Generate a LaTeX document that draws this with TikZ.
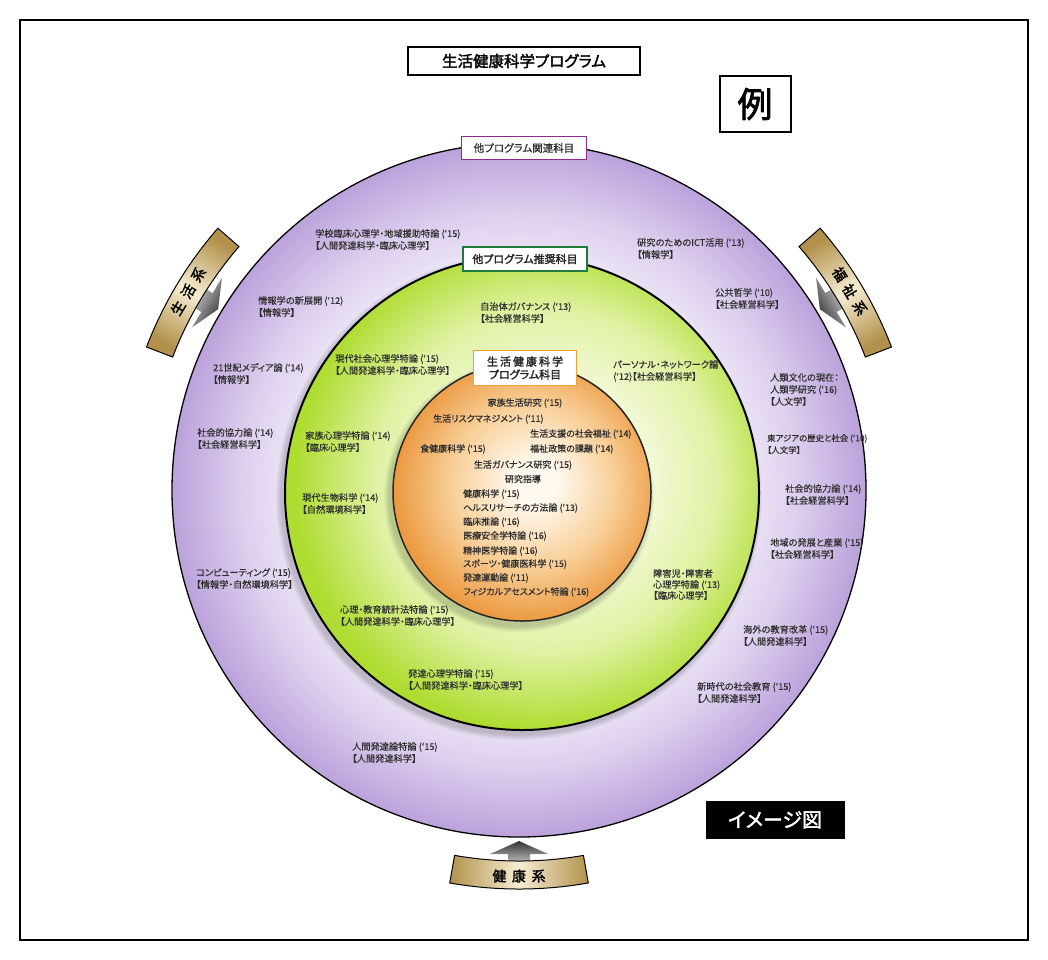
\documentclass[tikz,border=0pt]{standalone}
\usepackage{fontspec}
\newfontfamily\jp[RawFeature=+palt,FakeBold=0.25]{Noto Sans CJK JP}
\newfontfamily\jpm[RawFeature=+palt,FakeBold=0.6]{Noto Sans CJK JP}
\newfontfamily\jpb[RawFeature=+palt,FakeBold=2]{Noto Sans CJK JP}
\definecolor{pu1}{HTML}{EFE9F7}
\definecolor{pu2}{HTML}{DDCFEE}
\definecolor{pu3}{HTML}{BBA2DB}
\definecolor{gr1}{HTML}{F7FBE6}
\definecolor{gr2}{HTML}{E0F2A4}
\definecolor{gr3}{HTML}{AEDC30}
\definecolor{or1}{HTML}{FFF9F0}
\definecolor{or2}{HTML}{F8CE96}
\definecolor{or3}{HTML}{EC9A42}
\definecolor{gd1}{HTML}{B3914C}
\definecolor{gd2}{HTML}{F5EDD2}
\definecolor{txt}{HTML}{2E2E2E}
\definecolor{frpur}{HTML}{8A2C8C}
\definecolor{frgrn}{HTML}{1F7A3C}
\definecolor{frorg}{HTML}{F2A234}
\pgfdeclareradialshading{purpS}{\pgfpoint{0bp}{0bp}}{color(0bp)=(pu1); color(16bp)=(pu1); color(20bp)=(pu2); color(25bp)=(pu3); color(50bp)=(pu3)}
\pgfdeclareradialshading{grnS}{\pgfpoint{4bp}{2bp}}{color(0bp)=(gr1); color(8bp)=(gr1); color(18bp)=(gr2); color(26bp)=(gr3); color(50bp)=(gr3)}
\pgfdeclareradialshading{orgS}{\pgfpoint{3bp}{2bp}}{color(0bp)=(or1); color(4bp)=(or1); color(16bp)=(or2); color(26bp)=(or3); color(50bp)=(or3)}
\tikzset{
  lab/.style={font=\jp\fontsize{9.2}{12}\selectfont, text=txt, align=left, anchor=north west, inner sep=0pt},
  olab/.style={font=\jpm\fontsize{9}{11}\selectfont, text=txt, inner sep=0pt},
  bannertxt/.style={font=\jpb\fontsize{14}{16}\selectfont, text=black, inner sep=0pt},
  bannerbox/.style={draw=black, line width=1pt},
  tagbox/.style={fill=white, inner sep=0pt, align=center}
}
\begin{document}
\begin{tikzpicture}[x=1pt,y=-1pt]
\useasboundingbox (0,0) rectangle (1048,959);
\fill[white] (0,0) rectangle (1048,959);
\draw[line width=1.2pt] (20,20) rectangle (1028,940);

% circles
\shade[shading=purpS, draw=black, line width=1.3pt] (519,490) circle (347);
\foreach \i in {1,...,6}{\fill[black,opacity=0.03] (519,497) circle ({237+\i});}
\shade[shading=grnS, draw=black, line width=2pt] (522,493) circle (237);
\foreach \i in {1,...,6}{\fill[black,opacity=0.03] (519,497) circle ({129+\i});}
\shade[shading=orgS, draw=black!85, line width=1.5pt] (522,492) circle (129);

% banners with arrows
\begin{scope}[shift={(519,490)}]
  \shade[top color=black!80, bottom color=black!12, shading angle=0] (0,351) -- (29,364) -- (11,364) -- (11,378) -- (-11,378) -- (-11,364) -- (-29,364) -- cycle;
  \shade[bannerbox, left color=gd1, right color=gd1, middle color=gd2, shading angle=90] (80:371) arc[start angle=80, end angle=100, radius=371] -- (100:399) arc[start angle=100, end angle=80, radius=399] -- cycle;
  \node[bannertxt] (kenko) at (90:386) {健\hspace{0.4em}康\hspace{0.4em}系};
\end{scope}
\begin{scope}[shift={(519,490)}, rotate=-121]
  \shade[top color=black!80, bottom color=black!12, shading angle=-121] (0,351) -- (29,364) -- (11,364) -- (11,378) -- (-11,378) -- (-11,364) -- (-29,364) -- cycle;
  \shade[bannerbox, left color=gd1, right color=gd1, middle color=gd2, shading angle=-31] (80:371) arc[start angle=80, end angle=100, radius=371] -- (100:399) arc[start angle=100, end angle=80, radius=399] -- cycle;
  \node[bannertxt, rotate=59] (seikatsu) at (90:386) {生\hspace{0.4em}活\hspace{0.4em}系};
\end{scope}
\begin{scope}[shift={(519,490)}, rotate=121]
  \shade[top color=black!80, bottom color=black!12, shading angle=121] (0,351) -- (29,364) -- (11,364) -- (11,378) -- (-11,378) -- (-11,364) -- (-29,364) -- cycle;
  \shade[bannerbox, left color=gd1, right color=gd1, middle color=gd2, shading angle=211] (80:371) arc[start angle=80, end angle=100, radius=371] -- (100:399) arc[start angle=100, end angle=80, radius=399] -- cycle;
  \node[bannertxt, rotate=-59] (fukushi) at (90:386) {福\hspace{0.4em}祉\hspace{0.4em}系};
\end{scope}

% header boxes
\node[tagbox, draw=black, line width=1.3pt, minimum width=232pt, minimum height=28pt, font=\jpb\fontsize{15.5}{17}\selectfont] (title) at (524,61) {生活健康科学プログラム};
\node[tagbox, draw=black, line width=2pt, minimum width=71pt, minimum height=56pt, font=\jpb\fontsize{35}{37}\selectfont] (rei) at (755,104) {例};
\node[fill=black, text=white, inner sep=0pt, minimum width=139pt, minimum height=38pt, font=\jpb\fontsize{20}{22}\selectfont] (image) at (775,820) {イメージ図};

\node[tagbox, draw=frpur, line width=1.6pt, minimum width=125pt, minimum height=23pt, text=txt, font=\jpm\fontsize{10.5}{12}\selectfont] (kanren) at (524,148) {他プログラム関連科目};
\node[tagbox, draw=frgrn, line width=1.8pt, minimum width=124pt, minimum height=24pt, text=black!85, font=\jpb\fontsize{11}{13}\selectfont] (suisho) at (525,259) {他プログラム推奨科目};
\node[tagbox, draw=frorg, line width=1.8pt, minimum width=103pt, minimum height=35pt, text=black!85, font=\jpb\fontsize{11}{13}\selectfont] (prog) at (525,368) {生\kern2pt 活\kern2pt 健\kern2pt 康\kern2pt 科\kern2pt 学\\プログラム科目};

% outer ring texts
\node[lab] (a1) at (315,229) {学校臨床心理学・地域援助特論 (‘15)\\【人間発達科学・臨床心理学】};
\node[lab] (a2) at (258,296) {情報学の新展開 (‘12)\\【情報学】};
\node[lab] (a3) at (637,238) {研究のためのICT活用 (‘13)\\【情報学】};
\node[lab] (a4) at (715,288) {公共哲学 (‘10)\\【社会経営科学】};
\node[lab] (a5) at (213,363) {21世紀メディア論 (‘14)\\【情報学】};
\node[lab] (a6) at (197,428) {社会的協力論 (‘14)\\【社会経営科学】};
\node[lab] (a7) at (196,568) {コンピューティング (‘15)\\【情報学・自然環境科学】};
\node[lab] (a8) at (770,373) {人類文化の現在：\\人類学研究 (‘16)\\【人文学】};
\node[lab, font=\jp\fontsize{8.4}{12}\selectfont] (a9) at (767,434) {東アジアの歴史と社会 (‘10)\\【人文学】};
\node[lab] (a10) at (785,484) {社会的協力論 (‘14)\\【社会経営科学】};
\node[lab] (a11) at (770,538) {地域の発展と産業 (‘15)\\【社会経営科学】};
\node[lab] (a12) at (743,625) {海外の教育改革 (‘15)\\【人間発達科学】};
\node[lab] (a13) at (697,682) {新時代の社会教育 (‘15)\\【人間発達科学】};
\node[lab] (a14) at (352,742) {人間発達論特論 (‘15)\\【人間発達科学】};

% green ring texts
\node[lab] (b1) at (480,302) {自治体ガバナンス (‘13)\\【社会経営科学】};
\node[lab] (b2) at (335,354) {現代社会心理学特論 (‘15)\\【人間発達科学・臨床心理学】};
\node[lab, font=\jp\fontsize{9.2}{12}\selectfont] (b3) at (613,360) {パーソナル・ネットワーク論\\(‘12)【社会経営科学】};
\node[lab] (b4) at (305,431) {家族心理学特論 (‘14)\\【臨床心理学】};
\node[lab] (b5) at (302,493) {現代生物科学 (‘14)\\【自然環境科学】};
\node[lab] (b6) at (340,605) {心理・教育統計法特論 (‘15)\\【人間発達科学・臨床心理学】};
\node[lab] (b7) at (408,669) {発達心理学特論 (‘15)\\【人間発達科学・臨床心理学】};
\node[lab, font=\jp\fontsize{9.2}{11}\selectfont] (b8) at (653,569) {障害児・障害者\\心理学特論 (‘13)\\【臨床心理学】};

% orange texts
\node[olab] (c1) at (525,403) {家族生活研究 (‘15)};
\node[olab, anchor=west] (c2) at (433,419) {生活リスクマネジメント (‘11)};
\node[olab, anchor=west] (c3) at (530,434) {生活支援の社会福祉 (‘14)};
\node[olab, anchor=west] (c4) at (420,449) {食健康科学 (‘15)};
\node[olab, anchor=west] (c5) at (530,449) {福祉政策の課題 (‘14)};
\node[olab] (c6) at (523,465) {生活ガバナンス研究 (‘15)};
\node[olab] (c7) at (523,479) {研究指導};
\node[olab, anchor=west] (c8) at (463,494) {健康科学 (‘15)};
\node[olab, anchor=west] (c9) at (463,508) {ヘルスリサーチの方法論 (‘13)};
\node[olab, anchor=west] (c10) at (463,522) {臨床推論 (‘16)};
\node[olab, anchor=west] (c11) at (463,536) {医療安全学特論 (‘16)};
\node[olab, anchor=west] (c12) at (463,551) {精神医学特論 (‘16)};
\node[olab, anchor=west] (c13) at (463,564) {スポーツ・健康医科学 (‘15)};
\node[olab, anchor=west] (c14) at (463,578) {発達運動論 (‘11)};
\node[olab, anchor=west] (c15) at (463,592) {フィジカルアセスメント特論 (‘16)};
\end{tikzpicture}
\end{document}
